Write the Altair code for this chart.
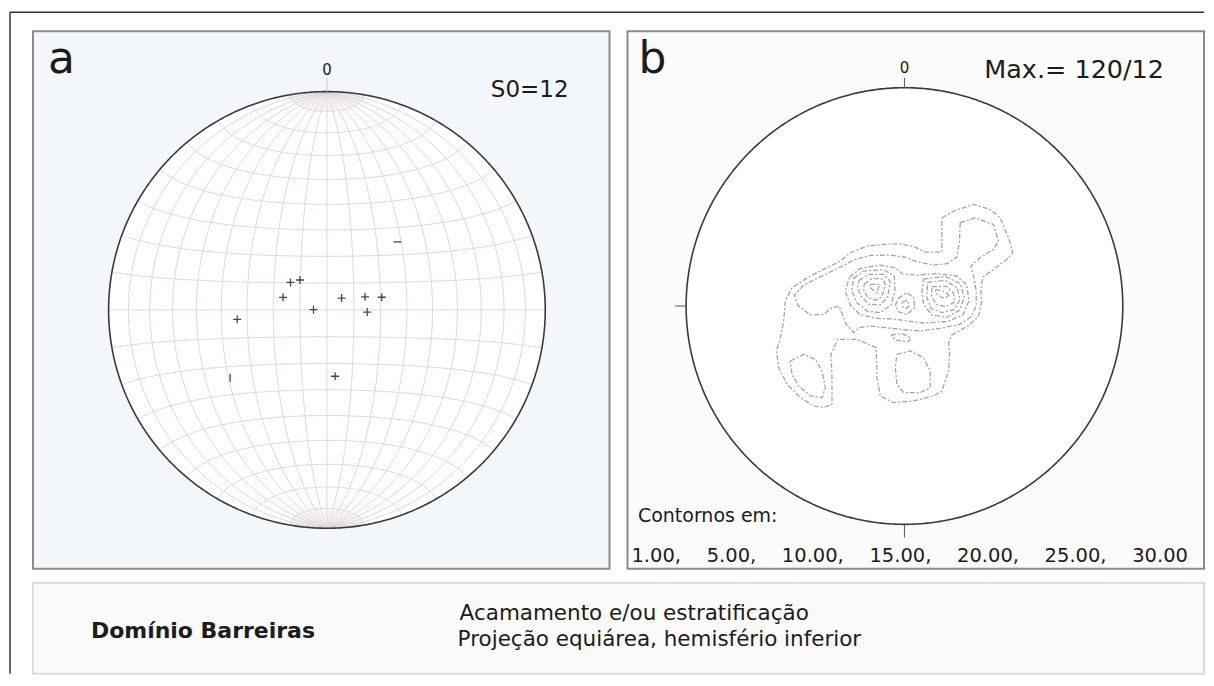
import altair as alt
import numpy as np
import pandas as pd

# ---------------- data ----------------
panel_a_letter = "a"
panel_b_letter = "b"
north_label = "0"
pole_count_label = "S0=12"
max_label = "Max.= 120/12"
contour_title = "Contornos em:"
contour_levels = [1.00, 5.00, 10.00, 15.00, 20.00, 25.00, 30.00]
domain_name = "Domínio Barreiras"
caption_lines = ["Acamamento e/ou estratificação",
                 "Projeção equiárea, hemisfério inferior"]

# poles to bedding S0 (trend, plunge, degrees), lower hemisphere
pole_trend = [307, 318, 286, 271, 51, 71, 77, 93, 264, 173, 235, 46]
pole_plunge = [73, 75, 73, 85, 83, 75, 69, 75, 56, 65, 45, 53]

# density contours of panel b, digitised on a grid where the primitive circle
# has centre (432.6, 345) and radius 655.5 (grid y grows downward)
contour_1 = [(545,80),(585,58),(640,40),(690,55),(720,80),(745,140),(758,185),(740,205),(700,235),(668,258),(662,300),(664,332),(655,375),(630,400),(600,418),(575,432),(565,455),(568,490),(565,540),(545,600),(520,615),(460,630),(400,635),(360,615),(350,560),(348,470),(290,445),(232,445),(212,490),(215,560),(215,640),(190,650),(160,645),(120,620),(80,580),(55,530),(48,480),(60,440),(70,390),(75,330),(95,290),(150,255),(240,210),(270,185),(320,165),(370,160),(420,158),(465,168),(495,183),(545,183),(545,80)]
contour_5_main = [(600,95),(645,80),(700,100),(715,150),(700,175),(660,200),(632,225),(642,262),(648,300),(648,345),(632,378),(598,400),(540,412),(480,420),(420,415),(375,410),(330,405),(298,410),(280,425),(258,400),(246,370),(236,345),(215,350),(190,370),(150,372),(112,342),(102,312),(130,282),(190,252),(240,228),(285,205),(330,193),(390,192),(435,198),(470,212),(520,222),(560,218),(590,198),(598,150),(600,95)]
contour_5_sw = [(90,510),(130,490),(165,505),(185,540),(195,590),(185,620),(150,615),(115,585),(95,550),(90,510)]
contour_5_s = [(410,490),(450,480),(490,500),(510,540),(510,590),(480,605),(430,605),(410,580),(405,530),(410,490)]
contour_5_small = [(392,432),(425,428),(452,440),(445,452),(405,447),(392,432)]
contour_10 = [(268,258),(300,232),(360,222),(405,230),(425,248),(470,252),(530,248),(590,255),(620,282),(626,330),(608,372),(560,392),(490,396),(440,390),(400,384),(350,382),(300,372),(270,342),(255,300),(268,258)]
contour_15_w = [(280,262),(310,240),(370,236),(402,255),(404,300),(392,342),(360,365),(320,360),(290,335),(274,300),(280,262)]
contour_20_w = [(296,268),(326,250),(372,250),(390,272),(382,318),(360,342),(326,340),(302,315),(292,290),(296,268)]
contour_25_w = [(312,278),(336,262),(368,264),(376,282),(364,318),(345,328),(322,318),(310,296),(312,278)]
contour_30_w = [(330,280),(358,280),(350,306),(332,292),(330,280)]
contour_15_c = [(414,322),(438,305),(460,318),(464,350),(440,370),(414,362),(406,342),(414,322)]
contour_20_c = [(426,334),(440,328),(448,342),(438,352),(427,347),(426,334)]
contour_15_e = [(490,264),(555,256),(600,278),(612,320),(598,358),(560,378),(515,372),(490,340),(485,300),(490,264)]
contour_20_e = [(502,274),(555,268),(590,290),(600,325),(582,356),(545,365),(512,352),(500,320),(502,274)]
contour_25_e = [(515,287),(558,286),(580,306),(582,334),(555,347),(527,340),(514,315),(515,287)]
contour_30_e = [(526,296),(555,302),(568,316),(546,320),(526,306),(526,296)]

contour_set = [
    (1, contour_1), (5, contour_5_main), (5, contour_5_sw), (5, contour_5_s),
    (5, contour_5_small), (10, contour_10),
    (15, contour_15_w), (20, contour_20_w), (25, contour_25_w), (30, contour_30_w),
    (15, contour_15_c), (20, contour_20_c),
    (15, contour_15_e), (20, contour_20_e), (25, contour_25_e), (30, contour_30_e),
]
DIG_CX, DIG_CY, DIG_R = 432.6, 345.0, 655.5

# ---------------- layout ----------------
FONT = "DejaVu Sans"
PW, PH = 577, 538
A_CX, A_CY, A_R = 294.2, 278.9, 218.5
B_CX, B_CY, B_R = 277.2, 275.0, 218.5
GRID_COLOR = "#dcd3d3"
CAP_COLOR = "#ece9e9"
CONTOUR_COLOR = "#a9a3a3"
CAPTION_TOP, CAPTION_H, CAPTION_W = 552, 91, 1172


def net_scales(cx, cy, r):
    xs = alt.Scale(domain=[-cx / r, (PW - cx) / r], nice=False, zero=False)
    ys = alt.Scale(domain=[-(PH - cy) / r, cy / r], nice=False, zero=False)
    return xs, ys


def lam(lat, lon):
    p, l = np.radians(lat), np.radians(lon)
    d = np.sqrt(1 + np.cos(p) * np.cos(l))
    return np.cos(p) * np.sin(l) / d, np.sin(p) / d


# circle geometry
t = np.linspace(np.pi, 0, 721)
circle_fill = pd.DataFrame({"e": np.cos(t), "n": np.sin(t), "n2": -np.sin(t)})
tt = np.linspace(0, 2 * np.pi, 721)
circle_line = pd.DataFrame({"e": np.cos(tt), "n": np.sin(tt), "k": np.arange(len(tt))})

# Schmidt net grid (10 degree) and the dense polar caps (2 degree)
rows, cap_rows = [], []
gid = 0
for lon in range(-80, 81, 10):
    lat = np.linspace(-90, 90, 181)
    x, y = lam(lat, lon)
    rows += [(gid, i, a, b) for i, (a, b) in enumerate(zip(x, y))]
    gid += 1
for latv in range(-80, 81, 10):
    lon = np.linspace(-90, 90, 181)
    x, y = lam(latv, lon)
    rows += [(gid, i, a, b) for i, (a, b) in enumerate(zip(x, y))]
    gid += 1
for lon in range(-88, 89, 2):
    if lon % 10 == 0:
        continue
    for lat in (np.linspace(80, 90, 11), np.linspace(-90, -80, 11)):
        x, y = lam(lat, lon)
        cap_rows += [(gid, i, a, b) for i, (a, b) in enumerate(zip(x, y))]
        gid += 1
grid = pd.DataFrame(rows, columns=["g", "k", "e", "n"])
caps = pd.DataFrame(cap_rows, columns=["g", "k", "e", "n"])

# poles (lower-hemisphere equal-area projection)
tr = np.radians(pole_trend)
rho = np.sqrt(2) * np.sin(np.radians((90 - np.array(pole_plunge)) / 2))
CROSS = "M-1,0L1,0M0,-1L0,1"
shapes = [CROSS] * len(pole_trend)
shapes[10] = "M0,-1L0,1"
shapes[11] = "M-1,0L1,0"
poles = pd.DataFrame({"e": rho * np.sin(tr), "n": rho * np.cos(tr), "shape": shapes})

# contours
crow = []
for cid, (lev, pts) in enumerate(contour_set):
    for k, (dx, dy) in enumerate(pts):
        crow.append((cid, lev, k, (dx - DIG_CX) / DIG_R, (DIG_CY - dy) / DIG_R))
contours = pd.DataFrame(crow, columns=["cid", "level", "k", "e", "n"])


def txt(s, x, y, size, align="left", weight="normal", color="#1c1c1c"):
    return alt.Chart(pd.DataFrame({"t": [s]})).mark_text(
        font=FONT, fontSize=size, align=align, baseline="alphabetic",
        fontWeight=weight, color=color
    ).encode(text="t:N", x=alt.value(x), y=alt.value(y))


def rule(x, y, x2=None, y2=None):
    enc = dict(x=alt.value(x), y=alt.value(y))
    if x2 is not None:
        enc["x2"] = alt.value(x2)
    if y2 is not None:
        enc["y2"] = alt.value(y2)
    return alt.Chart(pd.DataFrame({"d": [0]})).mark_rule(
        color="#333333", strokeWidth=1.5).encode(**enc)


# ---------------- panel a (also carries the page frame and the caption box) ----------------
xa, ya = net_scales(A_CX, A_CY, A_R)
Xa = alt.X("e:Q", scale=xa, axis=None)
Ya = alt.Y("n:Q", scale=ya, axis=None)

a_fill = alt.Chart(circle_fill).mark_area(color="white").encode(
    x=Xa, y=Ya, y2="n2:Q")
a_caps = alt.Chart(caps).mark_line(color=CAP_COLOR, strokeWidth=0.6).encode(
    x=Xa, y=Ya, detail="g:N", order="k:Q")
a_grid = alt.Chart(grid).mark_line(color=GRID_COLOR, strokeWidth=0.9).encode(
    x=Xa, y=Ya, detail="g:N", order="k:Q")
a_circ = alt.Chart(circle_line).mark_line(color="#3a3a3a", strokeWidth=1.6).encode(
    x=Xa, y=Ya, order="k:Q")
a_tick = alt.Chart(pd.DataFrame({"e": [0.0], "n": [1.0], "e2": [0.0], "n2": [1.065]})).mark_rule(
    color="#c9c2c2", strokeWidth=1).encode(x=Xa, y=Ya, x2="e2:Q", y2="n2:Q")
a_poles = alt.Chart(poles).mark_point(filled=False, color="#4e4646", strokeWidth=1.3, size=64, opacity=1).encode(
    x=Xa, y=Ya, shape=alt.Shape("shape:N", scale=None))

caption_box = alt.Chart(pd.DataFrame({"d": [0]})).mark_rect(
    fill="#fafafa", stroke="#dcdcdc", strokeWidth=2).encode(
    x=alt.value(0), x2=alt.value(CAPTION_W),
    y=alt.value(CAPTION_TOP), y2=alt.value(CAPTION_TOP + CAPTION_H))

panel_a = alt.layer(
    a_fill, a_caps, a_grid, a_circ, a_tick, a_poles,
    txt(panel_a_letter, 15, 42, 44),
    txt(north_label, A_CX, 44, 15, align="center"),
    txt(pole_count_label, 536, 66, 23, align="right"),
    rule(-23, -19, y2=643), rule(-23, -19, x2=CAPTION_W),
    caption_box,
    txt(domain_name, 58, CAPTION_TOP + 55, 22, weight="bold"),
    txt(caption_lines[0], 427, CAPTION_TOP + 37, 21.5),
    txt(caption_lines[1], 425, CAPTION_TOP + 63, 21.5),
).properties(width=PW, height=PH,
             view=alt.ViewBackground(fill="#f3f7fb", stroke="#8f8a8a", strokeWidth=2))

# ---------------- panel b ----------------
xb, yb = net_scales(B_CX, B_CY, B_R)
Xb = alt.X("e:Q", scale=xb, axis=None)
Yb = alt.Y("n:Q", scale=yb, axis=None)

b_fill = alt.Chart(circle_fill).mark_area(color="white").encode(x=Xb, y=Yb, y2="n2:Q")
b_cont = alt.Chart(contours).mark_line(
    color=CONTOUR_COLOR, strokeWidth=1.3, strokeDash=[5, 2, 2, 2]).encode(
    x=Xb, y=Yb, detail="cid:N", order="k:Q")
b_circ = alt.Chart(circle_line).mark_line(color="#3a3a3a", strokeWidth=1.6).encode(
    x=Xb, y=Yb, order="k:Q")
ticks = pd.DataFrame({"e": [0.0, -1.0, 0.0], "n": [1.0, 0.0, -1.0],
                      "e2": [0.0, -1.05, 0.0], "n2": [1.045, 0.0, -1.06]})
b_ticks = alt.Chart(ticks).mark_rule(color="#555555", strokeWidth=1).encode(
    x=Xb, y=Yb, x2="e2:Q", y2="n2:Q")
levels_text = "\u2003\u00a0".join(f"{v:.2f}," if i < len(contour_levels) - 1 else f"{v:.2f}"
                                  for i, v in enumerate(contour_levels))

panel_b = alt.layer(
    b_fill, b_cont, b_circ, b_ticks,
    txt(panel_b_letter, 11, 42, 44),
    txt(north_label, B_CX, 42, 15, align="center"),
    txt(max_label, 537, 47, 25.5, align="right"),
    txt(contour_title, 10.5, 491, 19),
    txt(levels_text, 4, 531, 19.5),
).properties(width=PW, height=PH,
             view=alt.ViewBackground(fill="#fbfbfb", stroke="#8f8a8a", strokeWidth=2))

chart = alt.hconcat(panel_a, panel_b, spacing=18, bounds="flush").properties(
    padding={"left": 0, "top": 2, "right": 0, "bottom": 0}, background="white")

chart.save("out.html", embed_options={"renderer": "svg", "actions": False})
